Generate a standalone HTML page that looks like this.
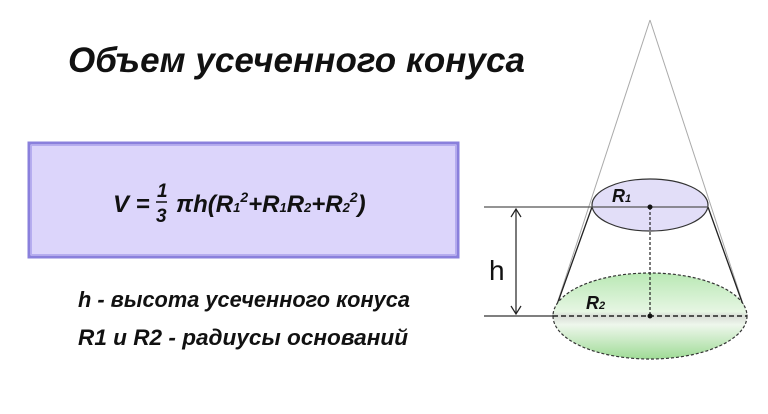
<!DOCTYPE html>
<html><head><meta charset="utf-8"><style>
html,body{margin:0;padding:0;background:#fff;width:768px;height:414px;overflow:hidden}
</style></head><body>
<svg width="768" height="414" viewBox="0 0 768 414" xmlns="http://www.w3.org/2000/svg" font-family="Liberation Sans, sans-serif">
<defs>
<linearGradient id="g" x1="0" y1="0" x2="0" y2="1">
<stop offset="0" stop-color="#b9e8b4"/><stop offset="0.45" stop-color="#e6f6e3"/><stop offset="0.5" stop-color="#d8dcd6"/><stop offset="0.6" stop-color="#eef7ec"/><stop offset="1" stop-color="#9fdb96"/>
</linearGradient>
</defs>
<text x="68" y="72" font-size="35" font-weight="bold" font-style="italic" fill="#111" textLength="457">Объем усеченного конуса</text>
<rect x="29" y="143" width="429" height="114" fill="#dcd5fb" stroke="#8a80dc" stroke-width="3"/>
<rect x="31.5" y="145.5" width="424" height="109" fill="none" stroke="#b6adf0" stroke-width="1"/>
<g font-style="italic" font-weight="bold" fill="#111">
<text x="113" y="212" font-size="24">V =</text>
<text x="157" y="197" font-size="19">1</text>
<line x1="156" y1="202" x2="167" y2="202" stroke="#111" stroke-width="1.5"/>
<text x="156" y="222" font-size="19">3</text>
<text x="176" y="212" font-size="24">πh(R<tspan font-size="13">1</tspan><tspan font-size="14" dy="-10">2</tspan><tspan dy="10">+R</tspan><tspan font-size="13">1</tspan>R<tspan font-size="13">2</tspan>+R<tspan font-size="13">2</tspan><tspan font-size="14" dy="-10">2</tspan><tspan dy="10">)</tspan></text>
<text x="78" y="307" font-size="22" textLength="332" lengthAdjust="spacingAndGlyphs">h - высота усеченного конуса</text>
<text x="78" y="345" font-size="22" textLength="330" lengthAdjust="spacingAndGlyphs">R1 и  R2 - радиусы оснований</text>
</g>
<line x1="650" y1="20" x2="553" y2="316" stroke="#aaa" stroke-width="1"/>
<line x1="650" y1="20" x2="747" y2="316" stroke="#aaa" stroke-width="1"/>
<line x1="592" y1="207" x2="553" y2="316" stroke="#222" stroke-width="1.3"/>
<line x1="708" y1="207" x2="747" y2="316" stroke="#222" stroke-width="1.3"/>
<ellipse cx="650" cy="316" rx="97" ry="43" fill="url(#g)" stroke="#333" stroke-width="1.2" stroke-dasharray="3,2"/>
<ellipse cx="650" cy="205" rx="58" ry="26" fill="#e2def8" stroke="#333" stroke-width="1.2"/>
<line x1="484" y1="207" x2="708" y2="207" stroke="#555" stroke-width="1.2"/>
<line x1="484" y1="316" x2="553" y2="316" stroke="#333" stroke-width="1.2"/>
<line x1="553" y1="316" x2="747" y2="316" stroke="#222" stroke-width="1.5" stroke-dasharray="5,3"/>
<line x1="650" y1="207" x2="650" y2="316" stroke="#222" stroke-width="1.2" stroke-dasharray="3,2"/>
<circle cx="650" cy="207" r="2.5" fill="#111"/>
<circle cx="650" cy="316" r="2.5" fill="#111"/>
<line x1="516" y1="209" x2="516" y2="314" stroke="#222" stroke-width="1.2"/>
<polyline points="511,217 516,209 521,217" fill="none" stroke="#222" stroke-width="1.2"/>
<polyline points="511,306 516,314 521,306" fill="none" stroke="#222" stroke-width="1.2"/>
<text x="489" y="280" font-size="28" fill="#111">h</text>
<text x="612" y="202" font-size="18" font-style="italic" font-weight="bold" fill="#111">R<tspan font-size="11">1</tspan></text>
<text x="586" y="309" font-size="18" font-style="italic" font-weight="bold" fill="#111">R<tspan font-size="11">2</tspan></text>
</svg>
</body></html>
